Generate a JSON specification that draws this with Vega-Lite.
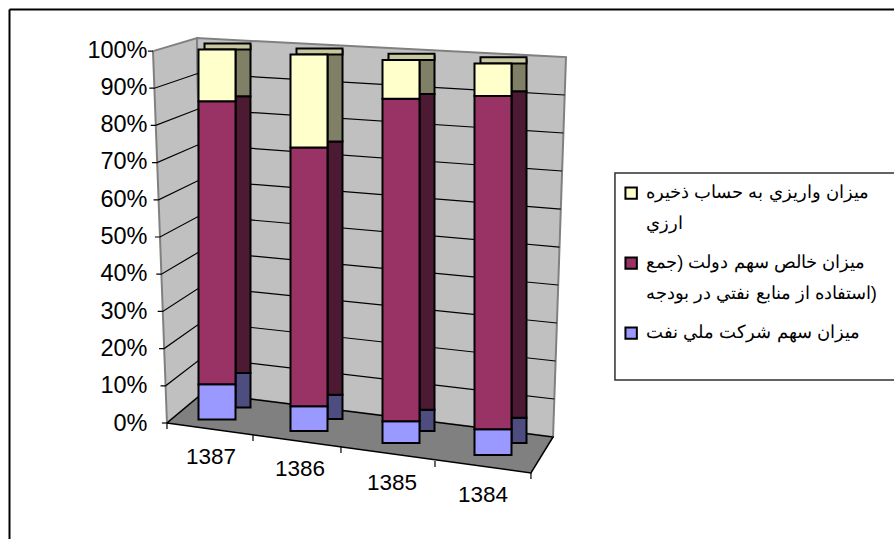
{"$schema":"https://vega.github.io/schema/vega-lite/v6.json","autosize":{"type":"none"},"padding":{"left":9,"top":9,"right":0,"bottom":0},"width":885,"height":530,"background":"white","view":{"stroke":null},
"config":{"font":"Liberation Sans","axis":{"grid":false,"title":null},"bar":{"stroke":"black","strokeWidth":2},"style":{"guide-label":{"lineHeight":31}}},
"datasets":{
"bars":[
{"year":"1387","series":"ميزان سهم شركت ملي نفت","rank":1,"share":9.5},{"year":"1387","series":"ميزان خالص سهم دولت (جمع استفاده از منابع نفتي در بودجه)","rank":2,"share":76.5},{"year":"1387","series":"ميزان  واريزي به حساب ذخيره ارزي","rank":3,"share":14},
{"year":"1386","series":"ميزان سهم شركت ملي نفت","rank":1,"share":6.6},{"year":"1386","series":"ميزان خالص سهم دولت (جمع استفاده از منابع نفتي در بودجه)","rank":2,"share":68.7},{"year":"1386","series":"ميزان  واريزي به حساب ذخيره ارزي","rank":3,"share":24.7},
{"year":"1385","series":"ميزان سهم شركت ملي نفت","rank":1,"share":5.7},{"year":"1385","series":"ميزان خالص سهم دولت (جمع استفاده از منابع نفتي در بودجه)","rank":2,"share":84.2},{"year":"1385","series":"ميزان  واريزي به حساب ذخيره ارزي","rank":3,"share":10.1},
{"year":"1384","series":"ميزان سهم شركت ملي نفت","rank":1,"share":6.6},{"year":"1384","series":"ميزان خالص سهم دولت (جمع استفاده از منابع نفتي در بودجه)","rank":2,"share":85.1},{"year":"1384","series":"ميزان  واريزي به حساب ذخيره ارزي","rank":3,"share":8.3}],
"ticks":[{"tick":0},{"tick":10},{"tick":20},{"tick":30},{"tick":40},{"tick":50},{"tick":60},{"tick":70},{"tick":80},{"tick":90},{"tick":100}],
"walls":[
{"plane":"side","seq":0,"pos":-0.326,"level":0},{"plane":"side","seq":1,"pos":-0.478,"level":99.7},{"plane":"side","seq":2,"pos":0,"level":103.2},{"plane":"side","seq":3,"pos":0.065,"level":8.04},{"plane":"side","seq":4,"pos":-0.326,"level":0},
{"plane":"back","seq":0,"pos":0.065,"level":8.04},{"plane":"back","seq":1,"pos":0,"level":103.2},{"plane":"back","seq":2,"pos":4.011,"level":98.1},{"plane":"back","seq":3,"pos":3.87,"level":-3.75},{"plane":"back","seq":4,"pos":0.065,"level":8.04}],
"floor":[{"seq":0,"pos":-0.326,"level":0},{"seq":1,"pos":0.065,"level":8.04},{"seq":2,"pos":3.87,"level":-3.75},{"seq":3,"pos":3.63,"level":-13.4},{"seq":4,"pos":-0.326,"level":0}],
"grid":[
{"g":"10","seq":0,"pos":-0.396,"level":9.97},{"g":"10","seq":1,"pos":-0.341,"level":9.97},{"g":"10","seq":2,"pos":0.059,"level":17.56},{"g":"10","seq":3,"pos":3.884,"level":6.43},
{"g":"20","seq":0,"pos":-0.412,"level":19.95},{"g":"20","seq":1,"pos":-0.357,"level":19.95},{"g":"20","seq":2,"pos":0.052,"level":27.08},{"g":"20","seq":3,"pos":3.898,"level":16.62},
{"g":"30","seq":0,"pos":-0.427,"level":29.92},{"g":"30","seq":1,"pos":-0.372,"level":29.92},{"g":"30","seq":2,"pos":0.046,"level":36.6},{"g":"30","seq":3,"pos":3.912,"level":26.81},
{"g":"40","seq":0,"pos":-0.442,"level":39.89},{"g":"40","seq":1,"pos":-0.387,"level":39.89},{"g":"40","seq":2,"pos":0.039,"level":46.11},{"g":"40","seq":3,"pos":3.926,"level":37},
{"g":"50","seq":0,"pos":-0.457,"level":49.87},{"g":"50","seq":1,"pos":-0.402,"level":49.87},{"g":"50","seq":2,"pos":0.033,"level":55.63},{"g":"50","seq":3,"pos":3.94,"level":47.18},
{"g":"60","seq":0,"pos":-0.472,"level":59.84},{"g":"60","seq":1,"pos":-0.417,"level":59.84},{"g":"60","seq":2,"pos":0.026,"level":65.15},{"g":"60","seq":3,"pos":3.954,"level":57.37},
{"g":"70","seq":0,"pos":-0.488,"level":69.81},{"g":"70","seq":1,"pos":-0.433,"level":69.81},{"g":"70","seq":2,"pos":0.02,"level":74.66},{"g":"70","seq":3,"pos":3.968,"level":67.56},
{"g":"80","seq":0,"pos":-0.503,"level":79.79},{"g":"80","seq":1,"pos":-0.448,"level":79.79},{"g":"80","seq":2,"pos":0.013,"level":84.18},{"g":"80","seq":3,"pos":3.983,"level":77.75},
{"g":"90","seq":0,"pos":-0.518,"level":89.76},{"g":"90","seq":1,"pos":-0.463,"level":89.76},{"g":"90","seq":2,"pos":0.007,"level":93.7},{"g":"90","seq":3,"pos":3.997,"level":87.94},
{"g":"100","seq":0,"pos":-0.533,"level":99.7},{"g":"100","seq":1,"pos":-0.478,"level":99.7},
{"g":"0","seq":0,"pos":-0.381,"level":0},{"g":"0","seq":1,"pos":-0.326,"level":0},
{"g":"t1","seq":0,"pos":0.609,"level":-3.22},{"g":"t1","seq":1,"pos":0.609,"level":-4.83},
{"g":"t2","seq":0,"pos":1.565,"level":-6.43},{"g":"t2","seq":1,"pos":1.565,"level":-8.04},
{"g":"t3","seq":0,"pos":2.587,"level":-10.2},{"g":"t3","seq":1,"pos":2.587,"level":-11.8},
{"g":"t4","seq":0,"pos":-0.326,"level":0},{"g":"t4","seq":1,"pos":-0.326,"level":-1.6},
{"g":"t5","seq":0,"pos":3.63,"level":-13.4},{"g":"t5","seq":1,"pos":3.63,"level":-15}],
"box":[{"seq":0,"pos":7.7,"level":67.02},{"seq":1,"pos":4.543,"level":67.02},{"seq":2,"pos":4.543,"level":11.53},{"seq":3,"pos":7.7,"level":11.53}]
},
"resolve":{"scale":{"x":"independent","y":"independent"},"axis":{"x":"independent","y":"independent"}},
"layer":[
{"data":{"name":"walls"},"mark":{"type":"line","fill":"#C0C0C0","stroke":"#808080","strokeWidth":2},"encoding":{"x":{"field":"pos","type":"quantitative","scale":{"domain":[-2.043,7.576]},"axis":{"orient":"top","ticks":false,"labels":false,"domain":true,"domainColor":"black","domainWidth":2}},"y":{"field":"level","type":"quantitative","scale":{"domain":[-31.1,111]},"axis":{"orient":"left","ticks":false,"labels":false,"domain":true,"domainColor":"black","domainWidth":2}},"detail":{"field":"plane"},"order":{"field":"seq"}}},
{"data":{"name":"floor"},"mark":{"type":"line","fill":"#808080","stroke":"black","strokeWidth":1.5},"encoding":{"x":{"field":"pos","type":"quantitative","scale":{"domain":[-2.043,7.576]},"axis":null},"y":{"field":"level","type":"quantitative","scale":{"domain":[-31.1,111]},"axis":null},"order":{"field":"seq"}}},
{"data":{"name":"grid"},"mark":{"type":"line","stroke":"black","strokeWidth":1.2},"encoding":{"x":{"field":"pos","type":"quantitative","scale":{"domain":[-2.043,7.576]},"axis":null},"y":{"field":"level","type":"quantitative","scale":{"domain":[-31.1,111]},"axis":null},"detail":{"field":"g"},"order":{"field":"seq"}}},
{"data":{"name":"box"},"mark":{"type":"line","fill":"white","stroke":"#303030","strokeWidth":1.5},"encoding":{"x":{"field":"pos","type":"quantitative","scale":{"domain":[-2.043,7.576]},"axis":null},"y":{"field":"level","type":"quantitative","scale":{"domain":[-31.1,111]},"axis":null},"order":{"field":"seq"}}},
{"data":{"name":"ticks"},"mark":{"type":"point","opacity":0},"encoding":{"y":{"field":"tick","type":"quantitative","scale":{"domain":[0,100],"range":[414,41]},"axis":{"orient":"left","offset":-138,"ticks":false,"domain":false,"labelPadding":0,"labelFontSize":23.5,"labelColor":"black","values":[0,10,20,30,40,50,60,70,80,90,100],"labelExpr":"datum.value+'%'"}}}},

{"data":{"name":"bars"},"transform":[{"filter":"datum.year=='1387'"}],"mark":{"type":"bar","width":15,"xOffset":26},"encoding":{"x":{"field":"year","type":"nominal","sort":null,"axis":null,"scale":{"type":"band","domain":["1387","1386","1385","1384"],"range":[162,530],"padding":0}},"y":{"field":"share","type":"quantitative","stack":"zero","scale":{"domain":[0,100],"range":[398.5,36.5]},"axis":null},"fill":{"field":"series","type":"nominal","legend":null,"scale":{"domain":["ميزان سهم شركت ملي نفت","ميزان خالص سهم دولت (جمع استفاده از منابع نفتي در بودجه)","ميزان  واريزي به حساب ذخيره ارزي"],"range":["#4D4D80","#4D1A33","#808066"]}},"order":{"field":"rank"}}},
{"data":{"name":"ticks"},"transform":[{"filter":"datum.tick==100"}],"mark":{"type":"bar","width":46,"xOffset":10.5,"fill":"#C8C8A0"},"encoding":{"x":{"datum":"1387","type":"nominal","axis":null,"scale":{"type":"band","domain":["1387","1386","1385","1384"],"range":[162,530],"padding":0}},"y":{"field":"tick","type":"quantitative","scale":{"domain":[0,100],"range":[410.5,40.5]},"axis":null},"y2":{"datum":101.6}}},
{"data":{"name":"bars"},"transform":[{"filter":"datum.year=='1387'"}],"mark":{"type":"bar","width":37},"encoding":{"x":{"field":"year","type":"nominal","sort":null,"axis":null,"scale":{"type":"band","domain":["1387","1386","1385","1384"],"range":[162,530],"padding":0}},"y":{"field":"share","type":"quantitative","stack":"zero","scale":{"domain":[0,100],"range":[410.5,40.5]},"axis":null},"color":{"field":"series","type":"nominal","scale":{"domain":["ميزان  واريزي به حساب ذخيره ارزي","ميزان خالص سهم دولت (جمع استفاده از منابع نفتي در بودجه)","ميزان سهم شركت ملي نفت"],"range":["#FFFFCC","#993366","#9999FF"]},"legend":{"orient":"none","legendX":613,"legendY":175,"title":null,"symbolType":"square","symbolSize":130,"symbolStrokeColor":"black","symbolStrokeWidth":2,"labelFontSize":18.3,"labelColor":"black","labelLimit":400,"labelFont":"Liberation Sans","labelAlign":"left","labelOffset":6,"rowPadding":20,"labelExpr":"indexof(datum.label,'ارزي')>=0 ? ['ميزان  واريزي به حساب ذخيره','ارزي'] : indexof(datum.label,'جمع')>=0 ? ['ميزان خالص سهم دولت (جمع','استفاده از منابع نفتي در بودجه)'] : datum.label"}},"order":{"field":"rank"}}},
{"data":{"name":"ticks"},"transform":[{"filter":"datum.tick==0"}],"mark":{"type":"text","fontSize":22.5,"dx":-6,"text":"1387"},"encoding":{"x":{"datum":"1387","type":"nominal","bandPosition":0.5,"axis":null,"scale":{"type":"band","domain":["1387","1386","1385","1384"],"range":[162,530],"padding":0}},"y":{"datum":-10.2,"type":"quantitative","scale":{"domain":[0,100],"range":[410.5,40.5]},"axis":null}}},

{"data":{"name":"bars"},"transform":[{"filter":"datum.year=='1386'"}],"mark":{"type":"bar","width":15,"xOffset":26},"encoding":{"x":{"field":"year","type":"nominal","sort":null,"axis":null,"scale":{"type":"band","domain":["1387","1386","1385","1384"],"range":[162,530],"padding":0}},"y":{"field":"share","type":"quantitative","stack":"zero","scale":{"domain":[0,100],"range":[410,41.5]},"axis":null},"fill":{"field":"series","type":"nominal","legend":null},"order":{"field":"rank"}}},
{"data":{"name":"ticks"},"transform":[{"filter":"datum.tick==100"}],"mark":{"type":"bar","width":46,"xOffset":10.5,"fill":"#C8C8A0"},"encoding":{"x":{"datum":"1386","type":"nominal","axis":null,"scale":{"type":"band","domain":["1387","1386","1385","1384"],"range":[162,530],"padding":0}},"y":{"field":"tick","type":"quantitative","scale":{"domain":[0,100],"range":[422,45.5]},"axis":null},"y2":{"datum":101.6}}},
{"data":{"name":"bars"},"transform":[{"filter":"datum.year=='1386'"}],"mark":{"type":"bar","width":37},"encoding":{"x":{"field":"year","type":"nominal","sort":null,"axis":null,"scale":{"type":"band","domain":["1387","1386","1385","1384"],"range":[162,530],"padding":0}},"y":{"field":"share","type":"quantitative","stack":"zero","scale":{"domain":[0,100],"range":[422,45.5]},"axis":null},"color":{"field":"series","type":"nominal"},"order":{"field":"rank"}}},
{"data":{"name":"ticks"},"transform":[{"filter":"datum.tick==0"}],"mark":{"type":"text","fontSize":22.5,"dx":-9,"text":"1386"},"encoding":{"x":{"datum":"1386","type":"nominal","bandPosition":0.5,"axis":null,"scale":{"type":"band","domain":["1387","1386","1385","1384"],"range":[162,530],"padding":0}},"y":{"datum":-10.2,"type":"quantitative","scale":{"domain":[0,100],"range":[422,45.5]},"axis":null}}},

{"data":{"name":"bars"},"transform":[{"filter":"datum.year=='1385'"}],"mark":{"type":"bar","width":15,"xOffset":26},"encoding":{"x":{"field":"year","type":"nominal","sort":null,"axis":null,"scale":{"type":"band","domain":["1387","1386","1385","1384"],"range":[162,530],"padding":0}},"y":{"field":"share","type":"quantitative","stack":"zero","scale":{"domain":[0,100],"range":[422,47]},"axis":null},"fill":{"field":"series","type":"nominal","legend":null},"order":{"field":"rank"}}},
{"data":{"name":"ticks"},"transform":[{"filter":"datum.tick==100"}],"mark":{"type":"bar","width":46,"xOffset":10.5,"fill":"#C8C8A0"},"encoding":{"x":{"datum":"1385","type":"nominal","axis":null,"scale":{"type":"band","domain":["1387","1386","1385","1384"],"range":[162,530],"padding":0}},"y":{"field":"tick","type":"quantitative","scale":{"domain":[0,100],"range":[434,51]},"axis":null},"y2":{"datum":101.6}}},
{"data":{"name":"bars"},"transform":[{"filter":"datum.year=='1385'"}],"mark":{"type":"bar","width":37},"encoding":{"x":{"field":"year","type":"nominal","sort":null,"axis":null,"scale":{"type":"band","domain":["1387","1386","1385","1384"],"range":[162,530],"padding":0}},"y":{"field":"share","type":"quantitative","stack":"zero","scale":{"domain":[0,100],"range":[434,51]},"axis":null},"color":{"field":"series","type":"nominal"},"order":{"field":"rank"}}},
{"data":{"name":"ticks"},"transform":[{"filter":"datum.tick==0"}],"mark":{"type":"text","fontSize":22.5,"dx":-9,"text":"1385"},"encoding":{"x":{"datum":"1385","type":"nominal","bandPosition":0.5,"axis":null,"scale":{"type":"band","domain":["1387","1386","1385","1384"],"range":[162,530],"padding":0}},"y":{"datum":-10.4,"type":"quantitative","scale":{"domain":[0,100],"range":[434,51]},"axis":null}}},

{"data":{"name":"bars"},"transform":[{"filter":"datum.year=='1384'"}],"mark":{"type":"bar","width":15,"xOffset":26},"encoding":{"x":{"field":"year","type":"nominal","sort":null,"axis":null,"scale":{"type":"band","domain":["1387","1386","1385","1384"],"range":[162,530],"padding":0}},"y":{"field":"share","type":"quantitative","stack":"zero","scale":{"domain":[0,100],"range":[434,50.5]},"axis":null},"fill":{"field":"series","type":"nominal","legend":null},"order":{"field":"rank"}}},
{"data":{"name":"ticks"},"transform":[{"filter":"datum.tick==100"}],"mark":{"type":"bar","width":46,"xOffset":10.5,"fill":"#C8C8A0"},"encoding":{"x":{"datum":"1384","type":"nominal","axis":null,"scale":{"type":"band","domain":["1387","1386","1385","1384"],"range":[162,530],"padding":0}},"y":{"field":"tick","type":"quantitative","scale":{"domain":[0,100],"range":[446,54.5]},"axis":null},"y2":{"datum":101.6}}},
{"data":{"name":"bars"},"transform":[{"filter":"datum.year=='1384'"}],"mark":{"type":"bar","width":37},"encoding":{"x":{"field":"year","type":"nominal","sort":null,"axis":null,"scale":{"type":"band","domain":["1387","1386","1385","1384"],"range":[162,530],"padding":0}},"y":{"field":"share","type":"quantitative","stack":"zero","scale":{"domain":[0,100],"range":[446,54.5]},"axis":null},"color":{"field":"series","type":"nominal"},"order":{"field":"rank"}}},
{"data":{"name":"ticks"},"transform":[{"filter":"datum.tick==0"}],"mark":{"type":"text","fontSize":22.5,"dx":-10,"text":"1384"},"encoding":{"x":{"datum":"1384","type":"nominal","bandPosition":0.5,"axis":null,"scale":{"type":"band","domain":["1387","1386","1385","1384"],"range":[162,530],"padding":0}},"y":{"datum":-10.2,"type":"quantitative","scale":{"domain":[0,100],"range":[446,54.5]},"axis":null}}}
]}
